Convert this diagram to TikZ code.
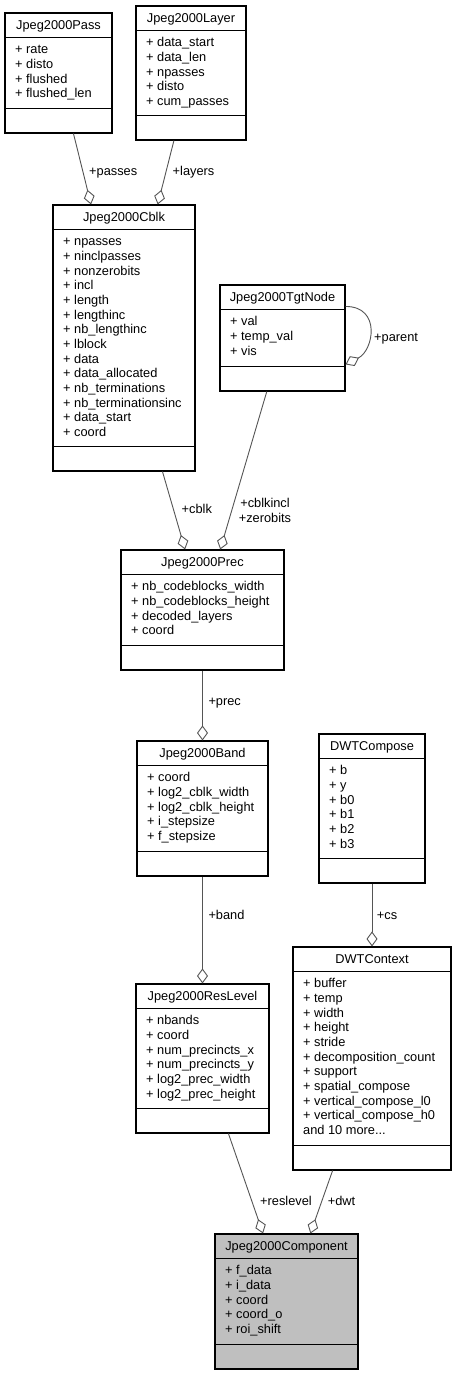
\documentclass[tikz,border=0pt]{standalone}
\usepackage{fontspec}
\setmainfont{Liberation Sans}
\usepackage{tikz}
\usetikzlibrary{arrows.meta,calc}

\definecolor{compfill}{HTML}{BFBFBF}
\definecolor{edgegray}{HTML}{555555}

% title, two separators and the member rows of a class box
\newcommand{\classparts}[3]{%
  \node[classtitle] (#1-title) at ($(#1.north)+(0,17)$) {#2};
  \draw[classline] ($(#1.north west)+(0,25)$) -- ($(#1.north east)+(0,25)$);
  \draw[classline] ($(#1.south west)+(0,-25)$) -- ($(#1.south east)+(0,-25)$);
  \foreach \attr [count=\row] in {#3}
    \node[member] (#1-attr-\row) at ($(#1.north west)+(10.5,{41.5+(\row-1)*14.67})$) {+ \attr};
}

\begin{document}
\begin{tikzpicture}[
    x=1pt,
    y=-1pt,
    font=\fontsize{12.8pt}{14.67pt}\selectfont,
    classbox/.style={
      draw=black,
      fill=white,
      line width=1.1pt,
      inner sep=0pt
      },
    classline/.style={
      draw=black,
      line width=1.1pt
      },
    classtitle/.style={
      anchor=base,
      inner sep=0pt
      },
    member/.style={
      anchor=base west,
      inner sep=0pt
      },
    lbl/.style={
      anchor=base west,
      inner sep=0pt
      },
    assoc/.style={
      draw=edgegray,
      line width=0.9pt
      },
    >={Diamond[open,length=15pt,width=11pt]}
    ]
    \path[use as bounding box, fill=white] (0,0) rectangle (456,1375);

    % class boxes
    \node[classbox, minimum width=107pt, minimum height=120pt] (pass) at (58.5,73) {};
    \node[classbox, minimum width=110pt, minimum height=134pt] (layer) at (191,73) {};
    \node[classbox, minimum width=142pt, minimum height=266pt] (cblk) at (124,338) {};
    \node[classbox, minimum width=125pt, minimum height=106pt] (tgt) at (282.5,338) {};
    \node[classbox, minimum width=163pt, minimum height=120pt] (prec) at (202.5,610) {};
    \node[classbox, minimum width=131pt, minimum height=135pt] (band) at (202.5,808.5) {};
    \node[classbox, minimum width=106pt, minimum height=149pt] (compose) at (372,808.5) {};
    \node[classbox, minimum width=158pt, minimum height=223pt] (ctx) at (372,1058.5) {};
    \node[classbox, minimum width=133pt, minimum height=149pt] (reslevel) at (202.5,1058.5) {};
    \node[classbox, fill=compfill, minimum width=143pt, minimum height=135pt] (comp) at (286.5,1301.5) {};

    \classparts{pass}{Jpeg2000Pass}{rate,disto,flushed,flushed\_len}
    \classparts{layer}{Jpeg2000Layer}{data\_start,data\_len,npasses,disto,cum\_passes}
    \classparts{cblk}{Jpeg2000Cblk}{npasses,ninclpasses,nonzerobits,incl,length,lengthinc,nb\_lengthinc,lblock,data,data\_allocated,nb\_terminations,nb\_terminationsinc,data\_start,coord}
    \classparts{tgt}{Jpeg2000TgtNode}{val,temp\_val,vis}
    \classparts{prec}{Jpeg2000Prec}{nb\_codeblocks\_width,nb\_codeblocks\_height,decoded\_layers,coord}
    \classparts{band}{Jpeg2000Band}{coord,log2\_cblk\_width,log2\_cblk\_height,i\_stepsize,f\_stepsize}
    \classparts{compose}{DWTCompose}{b,y,b0,b1,b2,b3}
    \classparts{ctx}{DWTContext}{buffer,temp,width,height,stride,decomposition\_count,support,spatial\_compose,vertical\_compose\_l0,vertical\_compose\_h0}
    \node[member] (ctx-more) at ($(ctx.north west)+(10.5,188.2)$) {and 10 more...};
    \classparts{reslevel}{Jpeg2000ResLevel}{nbands,coord,num\_precincts\_x,num\_precincts\_y,log2\_prec\_width,log2\_prec\_height}
    \classparts{comp}{Jpeg2000Component}{f\_data,i\_data,coord,coord\_o,roi\_shift}

    % aggregations
    \draw[assoc,->] (pass) -- (cblk);
    \draw[assoc,->] (layer) -- (cblk);
    \draw[assoc,->] (cblk) -- (prec);
    \draw[assoc,->] (tgt) -- (prec);
    \draw[assoc,->] ($(tgt.north east)+(0,22)$) .. controls +(36,0) and +(28,-14) .. ($(tgt.north east)+(0,80)$);
    \draw[assoc,->] (prec) -- (band);
    \draw[assoc,->] (band) -- (reslevel);
    \draw[assoc,->] (compose) -- (ctx);
    \draw[assoc,->] (reslevel) -- (comp);
    \draw[assoc,->] (ctx) -- (comp);

    % role labels
    \node[lbl] (l-passes) at (89,176) {+passes};
    \node[lbl] (l-layers) at (172.5,176) {+layers};
    \node[lbl] (l-cblk) at (181.5,513.5) {+cblk};
    \node[inner sep=0pt, anchor=north, align=center] (l-cblkincl) at (265,498) {+cblkincl\\+zerobits};
    \node[lbl] (l-parent) at (374,341) {+parent};
    \node[lbl] (l-prec) at (208.3,705.5) {+prec};
    \node[lbl] (l-band) at (208.3,919.5) {+band};
    \node[lbl] (l-cs) at (376.7,919.5) {+cs};
    \node[lbl] (l-reslevel) at (260,1205.5) {+reslevel};
    \node[lbl] (l-dwt) at (327.7,1205.5) {+dwt};
\end{tikzpicture}
\end{document}
